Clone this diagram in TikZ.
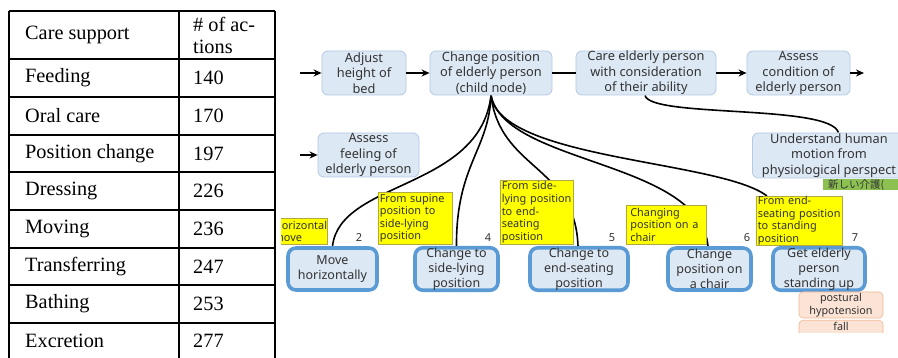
\documentclass[tikz,border=0pt]{standalone}
\usepackage{fontspec}
\setmainfont{Liberation Serif}
\newfontfamily\dfont{Noto Sans}
\newfontfamily\cjk{Noto Sans CJK JP}
\usetikzlibrary{arrows.meta}
\pgfdeclarelayer{paper}
\pgfdeclarelayer{wires}
\pgfsetlayers{paper,wires,main}
\definecolor{boxfill}{HTML}{DCE8F4}
\definecolor{boxline}{HTML}{B4C9E3}
\definecolor{thickline}{HTML}{5B9BD5}
\definecolor{txt}{HTML}{333333}
\definecolor{ylw}{HTML}{FFFF00}
\definecolor{ylwline}{HTML}{B0A840}
\definecolor{orfill}{HTML}{FBE3D5}
\definecolor{orline}{HTML}{F2B894}
\definecolor{grn}{HTML}{8CC152}
\tikzset{
  tbl/.style={line width=1.3pt, black},
  tcell/.style={anchor=west, inner sep=0pt, font=\fontsize{20.3}{22}\selectfont},
  topbox/.style={draw=boxline, fill=boxfill, line width=0.8pt, rounded corners=6pt, inner sep=0pt, align=center, text=txt, font=\dfont\fontsize{12.8}{15.5}\selectfont},
  botbox/.style={draw=thickline, fill=boxfill, line width=3.6pt, rounded corners=8pt, inner sep=0pt, align=center, text=txt, font=\dfont\fontsize{12.5}{15}\selectfont},
  ylab/.style={draw=ylwline, fill=ylw, line width=0.6pt, anchor=north west, inner xsep=1.5pt, inner ysep=0pt, align=left, text=txt, font=\dfont\fontsize{10.9}{12.6}\selectfont},
  numlab/.style={inner sep=0pt, text=txt, font=\dfont\fontsize{11}{13}\selectfont},
  orbox/.style={draw=orline, fill=orfill, line width=0.6pt, rounded corners=4pt, inner sep=0pt, align=center, text=txt, font=\dfont\fontsize{10.8}{12.8}\selectfont},
  flow/.style={line width=1.5pt, black, -{Stealth[length=8pt,width=7pt]}},
  link/.style={line width=1.6pt, black},
}
\begin{document}
\begin{tikzpicture}[x=1pt,y=-1pt]
\useasboundingbox (0,0) rectangle (898,358);
\clip (0,0) rectangle (898,358);
\begin{pgfonlayer}{paper}
\fill[white] (0,0) rectangle (898,358);
\end{pgfonlayer}
% ---------- table ----------
\draw[tbl] (9,11) -- (275,11);
\foreach \yy in {59,97,135,172,210,248,285,323} \draw[tbl] (9,\yy) -- (275,\yy);
\draw[tbl] (9,11) -- (9,362);
\draw[tbl] (179,11) -- (179,362);
\draw[tbl] (275,11) -- (275,362);
\node[tcell] (h1) at (25,35) {Care support};
\node[tcell, align=left] (h2) at (193,35) {\# of ac-\\tions};
\node[tcell] (r1a) at (25,78) {Feeding};
\node[tcell] (r1b) at (193,78) {140};
\node[tcell] (r2a) at (25,116) {Oral care};
\node[tcell] (r2b) at (193,116) {170};
\node[tcell] (r3a) at (25,153.5) {Position change};
\node[tcell] (r3b) at (193,153.5) {197};
\node[tcell] (r4a) at (25,191) {Dressing};
\node[tcell] (r4b) at (193,191) {226};
\node[tcell] (r5a) at (25,229) {Moving};
\node[tcell] (r5b) at (193,229) {236};
\node[tcell] (r6a) at (25,266.5) {Transferring};
\node[tcell] (r6b) at (193,266.5) {247};
\node[tcell] (r7a) at (25,304) {Bathing};
\node[tcell] (r7b) at (193,304) {253};
\node[tcell] (r8a) at (25,341) {Excretion};
\node[tcell] (r8b) at (193,341) {277};
% ---------- top row ----------
\node[topbox, minimum width=84pt, minimum height=44pt] (adj) at (364,73) {Adjust\\height of\\bed};
\node[topbox, minimum width=122pt, minimum height=44pt] (chg) at (491,73) {Change position\\of elderly person\\(child node)};
\node[topbox, minimum width=140pt, minimum height=44pt] (care) at (646,73) {Care elderly person\\with consideration\\of their ability};
\node[topbox, minimum width=103pt, minimum height=44pt] (asc) at (798.5,73) {Assess\\condition of\\elderly person};
\node[topbox, minimum width=101pt, minimum height=44pt] (asf) at (368.5,155) {Assess\\feeling of\\elderly person};
\node[topbox, minimum width=180pt, minimum height=45pt, anchor=west] (und) at (752,155.5) {};
\node[inner sep=0pt, align=center, text=txt, font=\dfont\fontsize{12.8}{15.5}\selectfont] (undt) at (829,155.5) {Understand human\\motion from\\physiological perspect};
\node[fill=grn, inner xsep=5pt, inner ysep=0pt, minimum height=10.5pt, text width=80pt, align=left, anchor=north west, text=txt, font=\cjk\fontsize{10.5}{10.5}\selectfont] (grnl) at (823,179) {新しい介護(};
\coordinate (in1) at (300,73);
\coordinate (in2) at (300,155);
\coordinate (out1) at (864,73);
\draw[flow] (in1) -- (adj);
\draw[flow] (adj) -- (chg);
\draw[line width=1.5pt] (chg) -- (care);
\draw[flow] (care) -- (asc);
\draw[flow] (asc.east) -- (out1);
\draw[flow] (in2) -- (asf);
% ---------- bottom boxes ----------
\node[botbox, minimum width=89pt, minimum height=42pt] (mv) at (332.5,269) {Move\\horizontally};
\node[botbox, minimum width=83pt, minimum height=42pt] (sl) at (456.5,269) {Change to\\side-lying\\position};
\node[botbox, minimum width=98pt, minimum height=42pt] (es) at (579,269) {Change to\\end-seating\\position};
\node[botbox, minimum width=83pt, minimum height=42pt] (ch) at (709.5,269) {Change\\position on\\a chair};
\node[botbox, minimum width=92pt, minimum height=42pt] (st) at (819,269) {Get elderly\\person\\standing up};
% ---------- yellow labels ----------
\begin{scope}
\clip (281,0) rectangle (898,358);
\node[ylab, minimum width=55pt, minimum height=26pt, text width=52pt] (y1) at (272,218) {Horizontal\\move};
\end{scope}
\node[ylab, minimum width=74pt, minimum height=52pt, text width=71pt] (y2) at (378,192) {\mbox{From supine}\\\mbox{position to}\\side-lying\\position};
\node[ylab, minimum width=73pt, minimum height=64pt, text width=70pt] (y3) at (500,180) {From side-\\\mbox{lying position}\\to end-\\seating\\position};
\node[ylab, minimum width=80pt, minimum height=39pt, text width=72pt, inner xsep=4pt] (y4) at (626,205) {Changing\\\mbox{position on a}\\chair};
\node[ylab, minimum width=86pt, minimum height=48pt, text width=83pt] (y5) at (756,196) {From end-\\\mbox{seating position}\\\mbox{to standing}\\position};
\coordinate (y5top) at ([xshift=11pt]y5.north west);
% ---------- curves (behind boxes) ----------
\begin{pgfonlayer}{wires}
\draw[link] ([xshift=-1pt]care.south) .. controls (650,118) and (830,104) .. ([xshift=-4pt]und.north);
\draw[link] (chg.south) .. controls (480,190) and (340,180) .. (mv.north);
\draw[link] (chg.south) .. controls (489,150) and (456,165) .. (sl.north);
\draw[link] (chg.south) .. controls (500,170) and (575,165) .. ([xshift=-1pt]es.north);
\draw[link] (chg.south) .. controls (505,165) and (700,160) .. ([xshift=-1.5pt]ch.north);
\draw[link] (chg.south) .. controls (500,160) and (720,160) .. (y5top);
\end{pgfonlayer}
% ---------- numbers ----------
\node[numlab] (n2) at (359,238) {2};
\node[numlab] (n4) at (488,238) {4};
\node[numlab] (n5) at (612,238) {5};
\node[numlab] (n6) at (747,238) {6};
\node[numlab] (n7) at (855,238) {7};
% ---------- orange boxes ----------
\node[orbox, minimum width=84pt, minimum height=26pt] (ph) at (841,305) {postural\\hypotension};
\begin{scope}
\clip (790,318) rectangle (898,332.5);
\node[orbox, minimum width=84pt, minimum height=22pt, anchor=north, text depth=10pt] (fl) at (841,320) {fall};
\end{scope}
\end{tikzpicture}
\end{document}
